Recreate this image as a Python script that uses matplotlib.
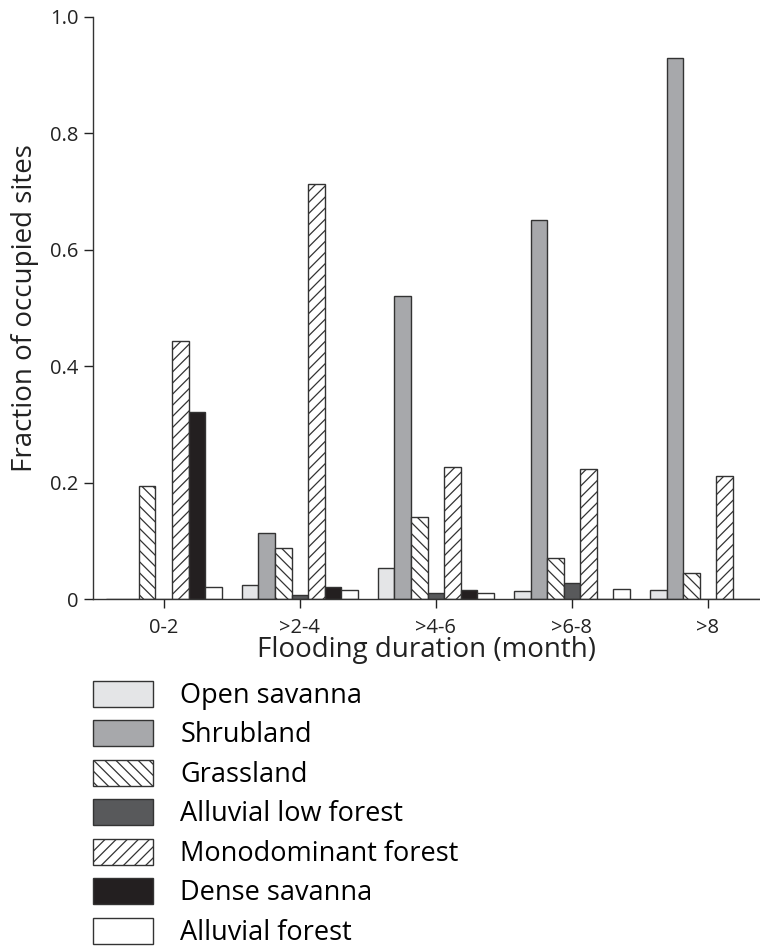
import numpy as np
import matplotlib
matplotlib.use("Agg")
from matplotlib import pyplot as plt

plt.rcParams['font.family'] = ['Open Sans', 'DejaVu Sans']
plt.rcParams['hatch.linewidth'] = 0.9

groups = ['0-2', '>2-4', '>4-6', '>6-8', '>8']
habitats = ['Open savanna', 'Shrubland', 'Grassland', 'Alluvial low forest',
            'Monodominant forest', 'Dense savanna', 'Alluvial forest']

open_savanna = [0.0, 0.024, 0.053, 0.013, 0.016]
shrubland = [0.0, 0.114, 0.521, 0.651, 0.930]
grassland = [0.194, 0.087, 0.141, 0.070, 0.045]
alluvial_low = [0.0, 0.007, 0.010, 0.027, 0.0]
monodominant = [0.443, 0.713, 0.226, 0.224, 0.211]
dense_savanna = [0.321, 0.021, 0.016, 0.0, 0.0]
alluvial_forest = [0.020, 0.015, 0.010, 0.017, 0.0]

series = [open_savanna, shrubland, grassland, alluvial_low,
          monodominant, dense_savanna, alluvial_forest]
colors = ['#e4e5e7', '#a7a8ab', 'white', '#58595b', 'white', '#231f20', 'white']
hatches = [None, None, '\\\\\\', None, '///', None, None]

fig = plt.figure(figsize=(7.6, 9.48), dpi=100)
ax = fig.add_axes([0.1224, 0.3681, 0.877, 0.614])

x = np.arange(len(groups))
w = 0.1215
handles = []
for i, vals in enumerate(series):
    b = ax.bar(x + (i - 3) * w, vals, w, color=colors[i], hatch=hatches[i],
               edgecolor='#333333', linewidth=1.0, label=habitats[i])
    handles.append(b)

ax.set_xlim(-0.52, 4.38)
ax.set_ylim(0, 1.0)
ax.set_yticks([0, 0.2, 0.4, 0.6, 0.8, 1.0])
ax.set_yticklabels(['0', '0.2', '0.4', '0.6', '0.8', '1.0'])
ax.set_xticks(x)
ax.set_xticklabels(groups)
ax.tick_params(axis='both', direction='out', length=6.5, width=1.0,
               labelsize=14.5, colors='#222222')
ax.tick_params(axis='y', pad=4)
ax.tick_params(axis='x', pad=7)
for s in ['top', 'right']:
    ax.spines[s].set_visible(False)
for s in ['left', 'bottom']:
    ax.spines[s].set_linewidth(1.0)
    ax.spines[s].set_color('#333333')

ax.set_ylabel('Fraction of occupied sites', fontsize=20, color='#222222', labelpad=8)
ax.set_xlabel('Flooding duration (month)', fontsize=20, color='#222222', labelpad=-1)

fig.legend(handles=handles, loc='upper left', bbox_to_anchor=(0.1224, 0.282),
           frameon=False, fontsize=19.5, handlelength=2.22, handleheight=1.1,
           labelspacing=0.38, handletextpad=1.0, borderpad=0, borderaxespad=0)

fig.savefig('out.png', dpi=100)
